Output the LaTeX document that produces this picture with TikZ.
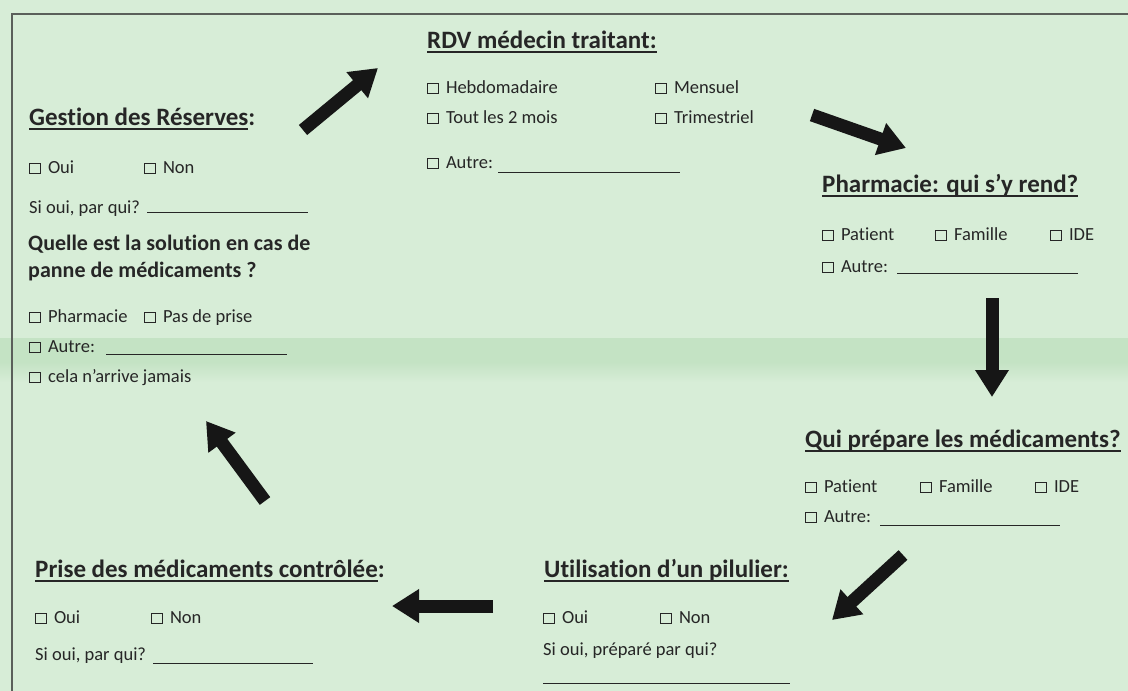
\documentclass[tikz,border=0pt]{standalone}
\usepackage{fontspec}
\setmainfont{Carlito}[Ligatures=CommonOff]
\usetikzlibrary{arrows.meta}
\definecolor{bg}{RGB}{215,237,215}
\definecolor{band}{RGB}{196,227,196}
\definecolor{ink}{RGB}{38,38,38}
\definecolor{arr}{RGB}{22,22,22}
\definecolor{frame}{RGB}{90,95,90}
\newcommand\cbx{{\fboxsep=0pt\fboxrule=0.9pt\fbox{\rule{0pt}{9.5pt}\hspace{9.5pt}}}\hspace{7.5pt}}
\newcommand\ulx[1]{\setbox0\hbox{#1}\rlap{\rule[-4.5pt]{\wd0}{1.4pt}}\box0}
\begin{document}
\begin{tikzpicture}[x=1pt,y=-1pt,
  every node/.style={inner sep=0pt, anchor=base west, text=ink},
  head/.style={font=\fontsize{25}{30}\selectfont\bfseries},
  sub/.style={font=\fontsize{22}{26}\selectfont\bfseries},
  item/.style={font=\fontsize{18.5}{22}\selectfont},
  blank/.style={draw=ink, line width=1pt},
  bigarrow/.style={draw=arr, line width=13pt, -{Triangle[width=32pt,length=27pt]}}]
\fill[bg] (0,0) rectangle (1128,691);
\useasboundingbox (0,0) rectangle (1128,691);
\fill[band] (0,338) rectangle (1128,362);
\shade[top color=band, bottom color=bg] (0,362) rectangle (1128,382);
\draw[frame, line width=1.2pt] (1128,14) -- (12,14) -- (12,691);

% RDV
\node[head] (rdv) at (427,48) {\ulx{RDV médecin traitant:}};
\node[item] (rdv1) at (427,93) {\cbx Hebdomadaire};
\node[item] (rdv2) at (655,93) {\cbx Mensuel};
\node[item] (rdv3) at (427,123) {\cbx Tout les 2 mois};
\node[item] (rdv4) at (655,123) {\cbx Trimestriel};
\node[item] (rdv5) at (427,168) {\cbx Autre:};
\coordinate (rdvA) at (498,172);
\coordinate (rdvB) at (680,172);
\draw[blank] (rdvA) -- (rdvB);

% Gestion
\node[head] (ges) at (29,125) {\ulx{Gestion des Réserves}:};
\node[item] (ges1) at (29,173) {\cbx Oui};
\node[item] (ges2) at (144,173) {\cbx Non};
\node[item] (ges3) at (29,213) {Si oui, par qui?};
\coordinate (gesA) at (147,212);
\coordinate (gesB) at (308,212);
\draw[blank] (gesA) -- (gesB);
\node[sub] (q1) at (28,250) {Quelle est la solution en cas de};
\node[sub] (q2) at (28,277) {panne de médicaments ?};
\node[item] (q3) at (29,322) {\cbx Pharmacie};
\node[item] (q4) at (144,322) {\cbx Pas de prise};
\node[item] (q5) at (29,352) {\cbx Autre:};
\coordinate (qA) at (106,354);
\coordinate (qB) at (287,354);
\draw[blank] (qA) -- (qB);
\node[item] (q6) at (29,382) {\cbx cela n’arrive jamais};

% Pharmacie
\node[head] (ph) at (822,192) {\ulx{Pharmacie: qui s’y rend?}};
\node[item] (ph1) at (822,240) {\cbx Patient};
\node[item] (ph2) at (935,240) {\cbx Famille};
\node[item] (ph3) at (1050,240) {\cbx IDE};
\node[item] (ph4) at (822,272) {\cbx Autre:};
\coordinate (phA) at (897,273);
\coordinate (phB) at (1078,273);
\draw[blank] (phA) -- (phB);

% Qui prepare
\node[head] (qp) at (805,447) {\ulx{Qui prépare les médicaments?}};
\node[item] (qp1) at (805,492) {\cbx Patient};
\node[item] (qp2) at (920,492) {\cbx Famille};
\node[item] (qp3) at (1035,492) {\cbx IDE};
\node[item] (qp4) at (805,522) {\cbx Autre:};
\coordinate (qpA) at (880,525);
\coordinate (qpB) at (1060,525);
\draw[blank] (qpA) -- (qpB);

% Utilisation
\node[head] (up) at (544,577) {\ulx{Utilisation d’un pilulier:}};
\node[item] (up1) at (543,623) {\cbx Oui};
\node[item] (up2) at (660,623) {\cbx Non};
\node[item] (up3) at (543,655) {Si oui, préparé par qui?};
\coordinate (upA) at (543,683);
\coordinate (upB) at (790,683);
\draw[blank] (upA) -- (upB);

% Prise
\node[head] (pr) at (35,577) {\ulx{Prise des médicaments contrôlée}:};
\node[item] (pr1) at (35,623) {\cbx Oui};
\node[item] (pr2) at (151,623) {\cbx Non};
\node[item] (pr3) at (35,660) {Si oui, par qui?};
\coordinate (prA) at (153,663);
\coordinate (prB) at (313,663);
\draw[blank] (prA) -- (prB);

% arrows
\coordinate (a1s) at (303,130); \coordinate (a1e) at (378,68);
\coordinate (a2s) at (812,115); \coordinate (a2e) at (906,148);
\coordinate (a3s) at (992,298); \coordinate (a3e) at (992,397);
\coordinate (a4s) at (903,555); \coordinate (a4e) at (832,620);
\coordinate (a5s) at (493,606); \coordinate (a5e) at (392,606);
\coordinate (a6s) at (265,501); \coordinate (a6e) at (206,421);
\draw[bigarrow] (a1s) -- (a1e);
\draw[bigarrow] (a2s) -- (a2e);
\draw[bigarrow] (a3s) -- (a3e);
\draw[bigarrow] (a4s) -- (a4e);
\draw[bigarrow] (a5s) -- (a5e);
\draw[bigarrow] (a6s) -- (a6e);
\end{tikzpicture}
\end{document}
